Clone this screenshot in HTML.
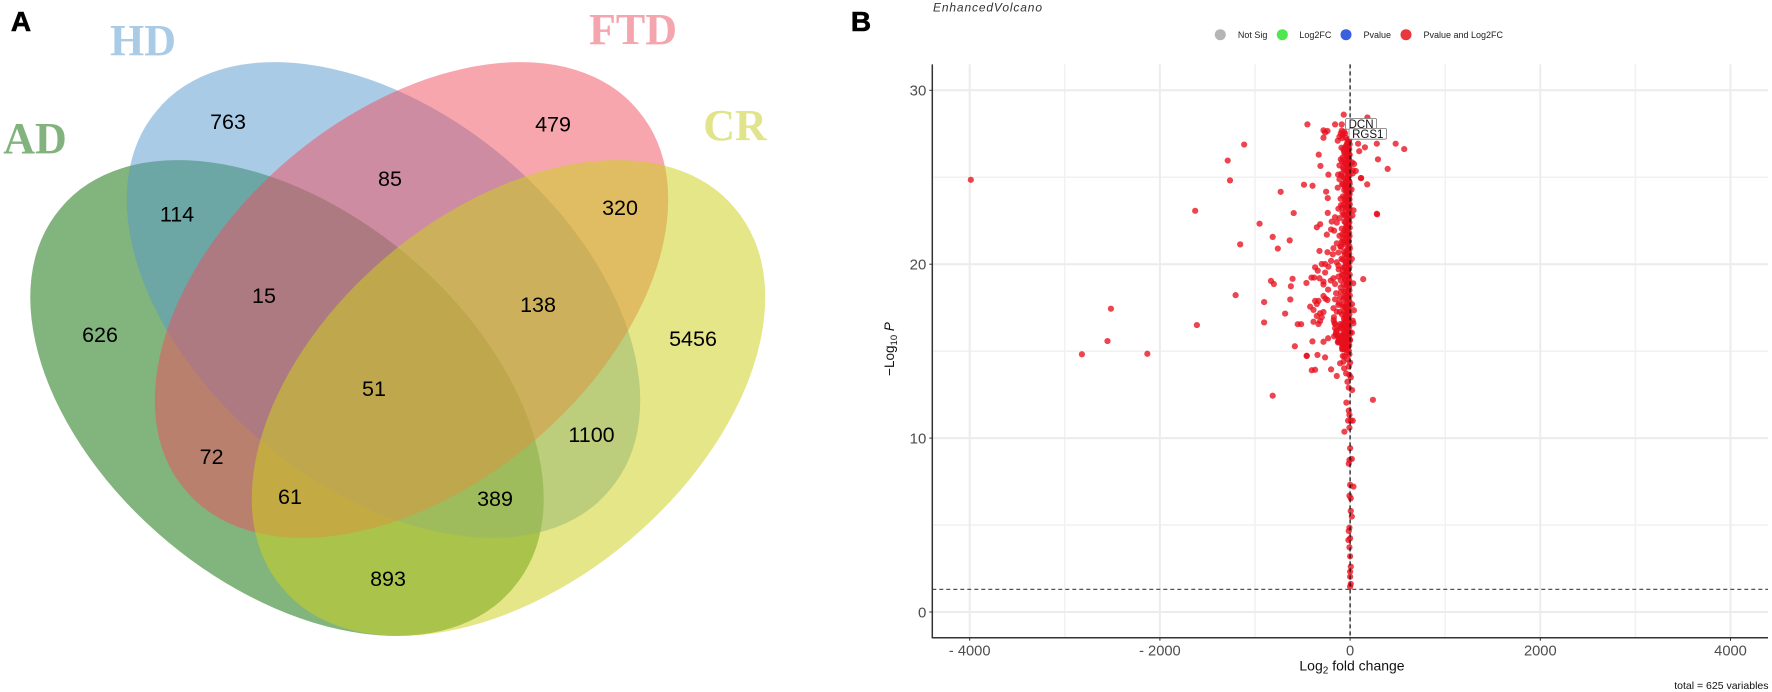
<!DOCTYPE html>
<html lang="en">
<head>
<meta charset="utf-8">
<title>Venn diagram and volcano plot</title>
<style>
html,body{margin:0;padding:0;background:#fff;}
body{width:1772px;height:692px;overflow:hidden;}
svg{display:block;}
text{font-family:"Liberation Sans",sans-serif;}
</style>
</head>
<body>
<svg id="fig" xmlns="http://www.w3.org/2000/svg" width="1772" height="692" viewBox="0 0 1772 692">
  <rect width="1772" height="692" fill="#fff"/>
  <text x="21" y="31" font-size="28" font-weight="bold" text-anchor="middle" fill="#000" stroke="#000" stroke-width=".6">A</text>
  <text x="861" y="31" font-size="28" font-weight="bold" text-anchor="middle" fill="#000" stroke="#000" stroke-width=".6">B</text>

  <g>
    <path d="M60.4 208.5A295.4 185.6 39.9 1 0 513.6 587.5A295.4 185.6 39.9 1 0 60.4 208.5Z" fill="#2f8226" fill-opacity=".6"/>
    <path d="M156.9 110.5A295.4 185.6 39.9 1 0 610.1 489.5A295.4 185.6 39.9 1 0 156.9 110.5Z" fill="#5597cd" fill-opacity=".5"/>
    <path d="M184.9 489.5A295.4 185.6 -39.9 1 0 638.1 110.5A295.4 185.6 -39.9 1 0 184.9 489.5Z" fill="#ef4d5d" fill-opacity=".5"/>
    <path d="M281.9 587.5A295.4 185.6 -39.9 1 0 735.1 208.5A295.4 185.6 -39.9 1 0 281.9 587.5Z" fill="#ccd01e" fill-opacity=".53"/>
    <g font-weight="bold" font-size="44" text-anchor="middle">
      <text x="143" y="55" fill="#a9cbe6" style="font-family:'Liberation Serif',serif">HD</text>
      <text x="633" y="44" fill="#f5a5ad" style="font-family:'Liberation Serif',serif">FTD</text>
      <text x="735" y="140" fill="#e1e48a" style="font-family:'Liberation Serif',serif">CR</text>
      <text x="35" y="153" fill="#82b37e" style="font-family:'Liberation Serif',serif">AD</text>
    </g>
    <g font-size="21.5" text-anchor="middle" fill="#000" dominant-baseline="central">
      <text x="228" y="122">763</text>
      <text x="553" y="124.5">479</text>
      <text x="390" y="179">85</text>
      <text x="177" y="214.5">114</text>
      <text x="620" y="208">320</text>
      <text x="264" y="296">15</text>
      <text x="538" y="305">138</text>
      <text x="100" y="335">626</text>
      <text x="693" y="339">5456</text>
      <text x="374" y="389">51</text>
      <text x="591.5" y="435">1100</text>
      <text x="211.6" y="457">72</text>
      <text x="290" y="497">61</text>
      <text x="495" y="499">389</text>
      <text x="388" y="579">893</text>
    </g>
  </g>

  <g id="volcano">
    <text x="933" y="11.5" font-size="12" font-style="italic" fill="#333" textLength="109">EnhancedVolcano</text>
    <g id="grid"></g>
    <g id="points" style="filter:blur(.35px)"></g>
    <g id="axes"></g>
    <g id="legend"></g>
    <text x="1352" y="670.5" font-size="14" text-anchor="middle" fill="#111">Log<tspan font-size="10" dy="3">2</tspan><tspan dy="-3"> fold change</tspan></text>
    <text transform="translate(894 349) rotate(-90)" font-size="13.5" text-anchor="middle" fill="#111">−Log<tspan font-size="9.5" dy="3">10</tspan><tspan dy="-3" font-style="italic"> P</tspan></text>
    <text x="1768.5" y="689" font-size="10.5" text-anchor="end" fill="#111">total = 625 variables</text>
  </g>
</svg>
<script>
// ---- chart data ----
const xTicks = [-4000, -2000, 0, 2000, 4000];
const xTickLabels = ['- 4000', '- 2000', '0', '2000', '4000'];
const xMinorTicks = [-3000, -1000, 1000, 3000];
const yTicks = [0, 10, 20, 30];
const yTickLabels = ['0', '10', '20', '30'];
const yMinorTicks = [5, 15, 25];
const pCutoff = 1.3;
const fcCutoff = 0;

const legendLabels = ['Not Sig', 'Log2FC', 'Pvalue', 'Pvalue and Log2FC'];
const legendColors = ['#b5b5b5', '#4de84d', '#3a5fe0', '#e8383d'];

const geneNames = ['DCN', 'RGS1'];
const geneFC = [21, 57];
const geneP = [28.07, 27.5];

const outlierFC = [-3988,-2820,-2132,-2551,-2515,-1611,-1629,-1287,-1263,-1114,
-1156,-1204,-952,-814,-760,-635,-593,-730,-485,-395,
-449,-832,-802,-605,-623,-629,-904,-683,-904,-551,
-515,-581,-814,240,138,281,395,293,180,114,
569,479,281,84,156,96,182,-67,-158,-88,
-280,-238,-263,-280,-330,-312,-228,-252,-235,-130,
42,60,116,28];
const outlierP = [24.85,14.82,14.85,15.58,17.44,16.5,23.07,25.96,24.82,26.88,
21.14,18.22,22.33,21.57,20.9,21.37,22.94,24.16,24.57,24.51,
28.04,19.04,18.86,19.16,18.73,17.97,17.82,17.16,16.65,16.55,
16.55,15.28,12.44,12.2,19.14,22.9,25.48,26.03,24.59,24.95,
26.62,26.93,26.93,26.93,26.72,26.5,28.44,28.6,28.04,28.04,
27.7,27.66,27.58,27.27,26.3,25.65,25.15,24.17,23.8,24.4,
25.76,25.36,24.95,25.22];

const upperFC = [-88,-63,-98,-77,-53,-112,-84,-130,-49,-28,
-14,-28,-91,-49,-14,-63,-28,-7,-77,-42,
-98,-14,-56,-112,-28,-74,-7,-42,-126,-91,
-18,-63,-112,-28,-7,-84,-49,-21,-42,-7,
-28,-7,-49,-14,-123,-88,-49,-7];
const upperP = [27.68,27.62,27.52,27.45,27.52,27.33,27.25,27.1,27.29,27.14,
27.04,26.85,26.7,26.7,26.66,26.47,26.41,26.28,26.14,26.07,
26.03,25.95,25.84,25.68,25.68,25.55,25.51,25.38,25.15,25.11,
25.18,25.0,24.88,24.88,24.74,24.61,24.53,24.42,24.23,24.17,
23.92,23.73,23.69,23.46,23.19,23.25,23.27,23.21];

const middleFC = [-235,284,-158,-315,-350,-193,-140,-200,-168,-245,
-112,-322,-238,-175,-140,-88,-182,-123,-200,-140,
-298,-263,-368,-228,-340,-263,-123,-77,-459,-406,
-378,-322,-280,-280,-203,-175,-158,-98,-231,-123,
-147,-280,-259,-238,-368,-333,-350,-420,-385,-315,
-280,-350,-298,-158,-105,-123,-77,-175,-140,-63];
const middleP = [22.95,22.87,22.7,22.3,22.12,22.45,22.39,22.0,21.93,21.7,
21.63,20.76,20.69,20.92,21.2,21.3,20.57,20.67,20.19,20.11,
20.01,20.01,19.82,19.86,19.63,19.52,19.92,19.67,18.92,19.23,
19.23,19.19,19.0,18.83,19.06,19.19,18.86,19.06,18.54,19.29,
18.33,18.17,18.02,17.94,17.89,17.89,17.71,17.56,17.37,17.18,
17.25,17.02,16.95,17.98,18.1,17.66,17.56,17.47,17.27,17.27];

const lowerFC = [-385,-333,-315,-396,-280,-231,-168,-456,-456,-343,
-263,-403,-368,-200,-140,-39,-123,-88,-53,-18,
0,-105,-63,-28,-70,0,-140,-88,-35,18,
-158,-105,-63,-18,35,-53,-77,-7,-28,-70,
-105,0,-63,-14,-42,-7,7,-28,-14,21,
-14,-7,-21,28,7,-7];
const lowerP = [16.69,16.56,16.73,15.56,15.54,15.74,15.85,14.72,14.74,14.78,
14.64,13.9,13.93,13.95,13.57,12.04,15.54,15.41,15.3,15.45,
15.64,15.74,15.64,15.74,15.98,16.06,16.21,16.31,16.21,16.06,
16.56,16.56,16.5,16.6,16.6,16.69,14.72,14.82,14.53,14.39,
14.3,14.34,14.01,14.11,13.72,13.63,13.49,13.24,12.9,12.76,
11.58,11.33,11.0,11.0,11.0,10.6];

const tailFC = [-60,0,18,-7,-14,0,35,-7,7,7,
18,-7,-14,0,-18,-7,0,7,0,0,
7,0];
const tailP = [10.37,9.42,8.8,8.74,8.53,7.31,7.21,6.69,6.54,5.81,
5.49,4.85,4.66,4.24,4.14,3.72,3.2,2.61,2.32,2.03,
1.61,1.46];

const spineFC = [-6,-12,-4,-18,-9,-22,-5,-14,-8,-25,
-3,-16,-10,-20,-6,-28,-12,-4,-17,-8,
-24,-5,-13,-9,-30,-3,-19,-7,-11,-26,
-5,-15,-8,-21,-4,-33,-10,-6,-18,-13,
-27,-7,-3,-16,-9,-35,-12,-5,-22,-8,
-14,-30,-4,-19,-10,-6,-38,-13,-7,-24,
-3,-17,-9,-32,-5,-20,-11,-7,-40,-14,
-4,-26,-8,-18,-6,-36,-12,-3,-22,-9];
const spineP = [27.2,27.05,26.9,26.76,26.6,26.42,26.3,26.13,25.98,25.84,
25.7,25.52,25.4,25.23,25.1,24.93,24.8,24.62,24.5,24.34,
24.2,24.03,23.9,23.72,23.6,23.44,23.3,23.12,23.0,22.83,
22.7,22.53,22.4,22.24,22.1,21.93,21.8,21.62,21.5,21.33,
21.2,21.03,20.9,20.72,20.6,20.44,20.3,20.12,20.0,19.83,
19.7,19.53,19.4,19.24,19.1,18.93,18.8,18.62,18.5,18.33,
18.2,18.03,17.9,17.72,17.6,17.44,17.3,17.12,17.0,16.83,
16.7,16.53,16.4,16.24,16.1,15.93,15.8,15.62,15.5,15.33];

const clusterFC = [-45,-60,-38,-75,-52,-95,-41,-66,-110,-48,
-35,-58,-82,-44,-70,-102,-36,-55,-90,-47,
-63,-120,-39,-78,-52,-34,-98,-61,-43,-72,
-115,-50,-37,-86,-56,-42,-68,-105,-46,-33,
-60,-92,-40,-74,-128,-54,-38,-84,-49,-65,
-170,-165,-158,-148,-134,-116,-100,-172,-150,-125,
22,30,15,36,25,18,40,28,20,33];
const clusterP = [24.7,24.45,24.15,23.9,23.65,23.4,23.1,22.85,22.65,22.4,
22.2,21.95,21.72,21.5,21.25,21.02,20.8,20.58,20.32,20.08,
19.82,19.7,19.58,19.36,19.12,18.88,18.66,18.42,18.2,17.98,
17.78,17.55,17.32,17.12,16.95,16.75,16.62,16.45,16.3,16.15,
16.0,15.86,15.75,15.62,15.5,15.4,15.28,15.22,15.15,15.1,
16.95,16.62,16.32,16.08,15.88,15.68,15.5,16.78,15.96,15.58,
25.85,25.4,24.3,23.1,22.8,20.3,17.35,16.75,17.7,18.9];

const denseFC = [-32,-44,-70,-25,-58,-38,-16,-84,-50,-27,
-66,-35,-92,-20,-54,-41,-76,-30,-62,-12,
-47,-100,-24,-68,-36,-15,-80,-52,-29,-60,
-19,-42,-88,-26,-56,-33,-72,-14,-48,-95,
-22,-64,-37,-11,-78,-46,-28,-58,-17,-40,
-86,-31,-54,-23,-69,-13,-44,-96,-26,-61,
-35,-18,-74,-49,-29,-108,-39,-15,-65,-24,
-52,-82,-33,-20,-58,-43,-118,-27,-71,-36,
-16,-50,-90,-30,-63,-21,-45,-77,-34,-13,
-56,-104,-25,-67,-38,-19,-47,-83,-31,-60];
const denseP = [26.95,26.8,26.6,26.52,26.36,26.22,26.05,25.9,25.76,25.62,
25.46,25.32,25.2,25.04,24.92,24.76,24.6,24.38,24.26,24.08,
23.88,23.76,23.58,23.44,23.32,23.14,22.96,22.78,22.62,22.46,
22.3,22.16,22.04,21.88,21.74,21.58,21.44,21.3,21.14,21.0,
20.86,20.72,20.56,20.42,20.26,20.14,19.98,19.84,19.72,19.56,
19.4,19.28,19.12,18.98,18.82,18.7,18.54,18.4,18.26,18.1,
17.96,17.82,17.68,17.54,17.4,17.26,17.12,16.98,16.86,16.72,
16.58,16.44,16.34,16.22,16.12,16.02,15.92,15.84,15.76,15.68,
15.6,15.54,15.46,15.4,15.34,15.26,15.2,15.14,15.08,15.02,
16.5,16.3,16.1,15.9,15.7,15.5,15.3,15.1,14.9,14.7];

// ---- axis functions ----
function xPos(v) { return 1350.1 + v * 0.0951; }
function yPos(v) { return 612 - v * 17.39; }

const NS = 'http://www.w3.org/2000/svg';
function make(tag, parent, attrs) {
  const el = document.createElementNS(NS, tag);
  for (const k in attrs) el.setAttribute(k, attrs[k]);
  parent.appendChild(el);
  return el;
}
const plotLeft = 932.3, plotRight = 1768, plotTop = 64.4, plotBottom = 637.7;
const grid = document.getElementById('grid');
const axes = document.getElementById('axes');
const points = document.getElementById('points');
const legend = document.getElementById('legend');

xMinorTicks.forEach(function (t) {
  const l = make('line', grid, {x1: xPos(t), x2: xPos(t), y1: plotTop, y2: plotBottom, stroke: '#f1f1f1', 'stroke-width': 1.5});
  
  
});
yMinorTicks.forEach(function (t) {
  const l = make('line', grid, {x1: plotLeft, x2: plotRight, y1: yPos(t), y2: yPos(t), stroke: '#f1f1f1', 'stroke-width': 1.5});
  
  
});
xTicks.forEach(function (t) {
  const l = make('line', grid, {x1: xPos(t), x2: xPos(t), y1: plotTop, y2: plotBottom, stroke: '#ececec', 'stroke-width': 2});
  
  
});
yTicks.forEach(function (t) {
  const l = make('line', grid, {x1: plotLeft, x2: plotRight, y1: yPos(t), y2: yPos(t), stroke: '#ececec', 'stroke-width': 2});
  
  
});

function drawSeries(fc, p) {
  const n = Math.min(fc.length, p.length);
  for (let i = 0; i < n; i++) {
    const c = make('circle', points, {cx: xPos(fc[i]), cy: yPos(p[i]), r: 3.1, fill: '#e8101e', 'fill-opacity': 0.78});
    
    
  }
}
drawSeries(outlierFC, outlierP);
drawSeries(upperFC, upperP);
drawSeries(middleFC, middleP);
drawSeries(lowerFC, lowerP);
drawSeries(tailFC, tailP);
drawSeries(spineFC, spineP);
drawSeries(clusterFC, clusterP);
drawSeries(denseFC, denseP);

const vCut = make('line', axes, {x1: xPos(fcCutoff), x2: xPos(fcCutoff), y1: plotTop, y2: plotBottom, stroke: '#111', 'stroke-width': 1.2, 'stroke-dasharray': '4 3'});


const hCut = make('line', axes, {x1: plotLeft, x2: plotRight, y1: yPos(pCutoff), y2: yPos(pCutoff), stroke: '#555', 'stroke-width': 1.2, 'stroke-dasharray': '4 3'});



const xAxisLine = make('line', axes, {x1: plotLeft, x2: plotRight, y1: plotBottom, y2: plotBottom, stroke: '#333', 'stroke-width': 1.5});


const yAxisLine = make('line', axes, {x1: plotLeft, x2: plotLeft, y1: plotTop, y2: plotBottom + 0.7, stroke: '#333', 'stroke-width': 1.5});



xTicks.forEach(function (t, i) {
  const m = make('line', axes, {x1: xPos(t), x2: xPos(t), y1: plotBottom, y2: plotBottom + 3, stroke: '#333', 'stroke-width': 1});
  
  
  const lb = make('text', axes, {x: xPos(t), y: 655.3, 'font-size': 14.7, 'text-anchor': 'middle', fill: '#4d4d4d'});
  lb.textContent = xTickLabels[i];
  
  
});
yTicks.forEach(function (t, i) {
  const m = make('line', axes, {x1: plotLeft - 3, x2: plotLeft, y1: yPos(t), y2: yPos(t), stroke: '#333', 'stroke-width': 1});
  
  
  const lb = make('text', axes, {x: plotLeft - 6, y: yPos(t) + 5.3, 'font-size': 15, 'text-anchor': 'end', fill: '#4d4d4d'});
  lb.textContent = yTickLabels[i];
  
  
});

geneNames.forEach(function (name, i) {
  const gx = xPos(geneFC[i]) - 6.5;
  const gy = yPos(geneP[i]);
  const w = name.length * 6.5 + 11.5;
  const box = make('rect', axes, {x: gx, y: gy - 5.4, width: w, height: 10.8, rx: 1.5, fill: '#fff', stroke: '#777', 'stroke-width': 0.8});
  
  
  const t = make('text', axes, {x: gx + w / 2, y: gy + 4.3, 'font-size': 11.5, 'text-anchor': 'middle', fill: '#111'});
  t.textContent = name;
  
  
});

const legendDotX = [1220.3, 1282.3, 1346, 1406];
const legendTextX = [1237.9, 1299.4, 1363.5, 1423.5];
legendLabels.forEach(function (name, i) {
  const d = make('circle', legend, {cx: legendDotX[i], cy: 34.7, r: 5.5, fill: legendColors[i]});
  
  
  const t = make('text', legend, {x: legendTextX[i], y: 37.8, 'font-size': 9, fill: '#222'});
  t.textContent = name;
  
  
});
</script>
</body>
</html>
